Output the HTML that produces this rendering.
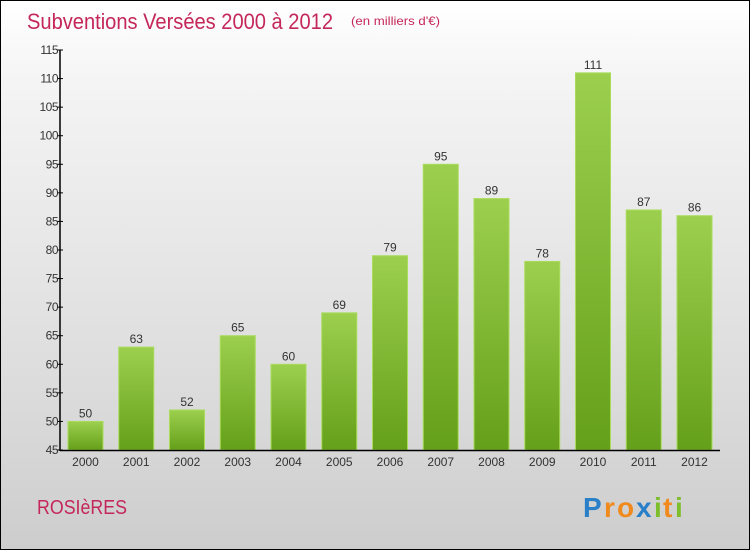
<!DOCTYPE html>
<html><head><meta charset="utf-8"><style>
body{margin:0;width:750px;height:550px;overflow:hidden;font-family:"Liberation Sans",sans-serif}
#c{position:absolute;left:0;top:0;width:748px;height:548px;border:1px solid #000;background:linear-gradient(#ffffff 0%,#f4f4f4 15%,#dcdcdc 70%,#cdcdcd 100%)}
</style></head><body>
<div id="c">
<svg width="750" height="550" style="position:absolute;left:-1px;top:-1px">
<defs><linearGradient id="g" x1="0" y1="0" x2="0" y2="1"><stop offset="0" stop-color="#9ccf4e"/><stop offset="1" stop-color="#65a01a"/></linearGradient></defs>
<text x="27" y="29" font-size="22" fill="#c4275a" textLength="306" lengthAdjust="spacingAndGlyphs">Subventions Versées 2000 à 2012</text>
<text x="351" y="25" font-size="12" fill="#c4275a" textLength="89" lengthAdjust="spacingAndGlyphs">(en milliers d'€)</text>
<text x="37" y="514" font-size="20" fill="#c4275a" textLength="90" lengthAdjust="spacingAndGlyphs">ROSIèRES</text>
<g id="logo" font-size="28" font-weight="bold">
<text x="583" y="517" fill="#2a7fc9">P</text><text x="604" y="517" fill="#f08a1c">r</text><text x="617" y="517" fill="#f08a1c">o</text><text x="636" y="517" fill="#2a7fc9">x</text><text x="654" y="517" fill="#7cbf2a">i</text><text x="663" y="517" fill="#f08a1c">t</text><text x="675" y="517" fill="#7cbf2a">i</text>
</g>
<g id="plot"></g>
</svg></div>
<script>
const years=["2000","2001","2002","2003","2004","2005","2006","2007","2008","2009","2010","2011","2012"];
const values=[50,63,52,65,60,69,79,95,89,78,111,87,86];
const ticks=[45,50,55,60,65,70,75,80,85,90,95,100,105,110,115];
const NS="http://www.w3.org/2000/svg";
const g=document.getElementById('plot');
const y0=450,y1=50,vmin=45,vmax=115;
const ys=v=>y0-(v-vmin)*(y0-y1)/(vmax-vmin);
const xs=i=>85.5+i*50.75;
function mk(t,a,txt){const e=document.createElementNS(NS,t);for(const k in a)e.setAttribute(k,a[k]);if(txt!==undefined)e.textContent=txt;g.appendChild(e);return e;}
values.forEach((v,i)=>{
 const r=mk('rect',{x:xs(i)-17.5,y:ys(v),width:35,height:y0-ys(v),fill:'url(#g)',stroke:'#a8dc5a','stroke-width':1});
 
 
 const t=mk('text',{x:xs(i),y:ys(v)-4,'font-size':12,fill:'#333','text-anchor':'middle'},String(v));
 
 
 const xl=mk('text',{x:xs(i),y:466,'font-size':12,fill:'#333','text-anchor':'middle'},years[i]);
 
 
});
ticks.forEach(v=>{
 const tk=mk('line',{x1:57,x2:63,y1:ys(v),y2:ys(v),stroke:'#000'});
 
 
 const l=mk('text',{x:58,y:ys(v)+4,'font-size':12,fill:'#333','text-anchor':'end','letter-spacing':'-0.5'},String(v));
 
 
});
const ya=mk('line',{x1:60,x2:60,y1:y1,y2:y0+1,stroke:'#000','stroke-width':1.5});


const xa=mk('line',{x1:60,x2:720,y1:y0+0.5,y2:y0+0.5,stroke:'#000','stroke-width':1.5});


</script>
</body></html>
